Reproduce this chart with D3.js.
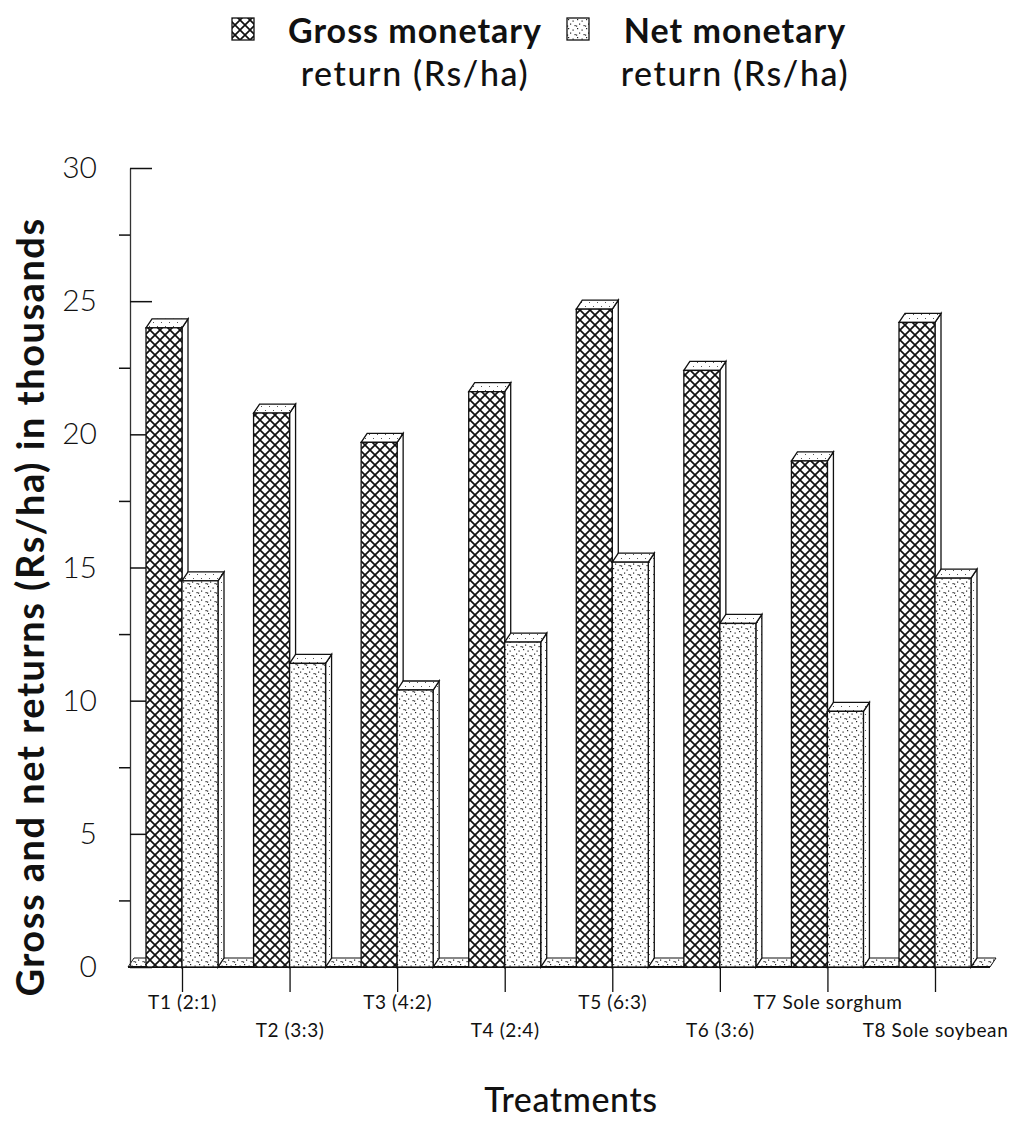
<!DOCTYPE html>
<html>
<head>
<meta charset="utf-8">
<script src="https://cdn.jsdelivr.net/npm/d3@7"></script>
<style>
  body { margin: 0; background: #fff; }
  svg { font-family: Lato, "Open Sans", sans-serif; }
</style>
</head>
<body>
<script>
// Treatments and their returns (thousand Rs/ha)
var treatments = ["T1 (2:1)", "T2 (3:3)", "T3 (4:2)", "T4 (2:4)", "T5 (6:3)", "T6 (3:6)", "T7 Sole sorghum", "T8 Sole soybean"];
var gross = [24.0, 20.8, 19.7, 21.6, 24.7, 22.4, 19.0, 24.2];
var net = [14.5, 11.4, 10.4, 12.2, 15.2, 12.9, 9.6, 14.6];
var majorTicks = [0, 5, 10, 15, 20, 25, 30];
var minorTicks = [2.5, 7.5, 12.5, 17.5, 22.5, 27.5];
var legendLabels = [["Gross monetary", "return (Rs/ha)"], ["Net monetary", "return (Rs/ha)"]];

var width = 1015, height = 1121;
var barW = 36, dx = 6, dy = 9;

var svg = d3.select("body").append("svg")
    .attr("width", width)
    .attr("height", height);

// patterns
var defs = svg.append("defs");
var hatch = defs.append("pattern")
    .attr("id", "hatch")
    .attr("patternUnits", "userSpaceOnUse")
    .attr("width", 10).attr("height", 10);
hatch.append("rect").attr("width", 10).attr("height", 10).attr("fill", "#fff");
hatch.append("path").attr("d", "M0,0L10,10M10,0L0,10M-1,9L1,11M9,-1L11,1")
    .attr("stroke", "#111").attr("stroke-width", 1.7);

var dots = defs.append("pattern")
    .attr("id", "dots")
    .attr("patternUnits", "userSpaceOnUse")
    .attr("width", 9).attr("height", 9);
dots.append("rect").attr("width", 9).attr("height", 9).attr("fill", "#fff");
[[1, 1], [5.5, 2.5], [3, 5.5], [7.5, 7], [0, 7.5]].forEach(function(p) {
  dots.append("rect").attr("x", p[0]).attr("y", p[1])
      .attr("width", 1.2).attr("height", 1.2).attr("fill", "#222");
});

var lightDots = defs.append("pattern")
    .attr("id", "lightdots")
    .attr("patternUnits", "userSpaceOnUse")
    .attr("width", 8).attr("height", 8);
lightDots.append("rect").attr("width", 8).attr("height", 8).attr("fill", "#fff");
[[1, 2], [5, 6]].forEach(function(p) {
  lightDots.append("rect").attr("x", p[0]).attr("y", p[1])
      .attr("width", 1).attr("height", 1).attr("fill", "#555");
});

// scales
var y = d3.scaleLinear().domain([0, 30]).range([967, 168]);
var x = d3.scalePoint().domain(treatments).range([182, 935]);
var x0 = 130;

// floor slab
var floorY = y(0);
svg.append("path")
    .attr("d", "M128," + floorY + "L" + (128 + dx) + "," + (floorY - dy) +
               "L" + (990 + dx) + "," + (floorY - dy) + "L990," + floorY + "Z")
    .attr("fill", "url(#dots)")
    .attr("stroke", "#111").attr("stroke-width", 1);
svg.append("line")
    .attr("x1", 128).attr("x2", 990)
    .attr("y1", floorY).attr("y2", floorY)
    .attr("stroke", "#111").attr("stroke-width", 2);

// y axis
var yAxis = svg.append("g")
    .attr("transform", "translate(" + x0 + ",0)")
    .call(d3.axisLeft(y).tickValues(majorTicks).tickSizeInner(-22).tickSizeOuter(0).tickPadding(33));
yAxis.select(".domain").attr("stroke", "#333").attr("stroke-width", 1.3);
yAxis.selectAll(".tick line").attr("stroke", "#111").attr("stroke-width", 1.5);
yAxis.selectAll(".tick text")
    .attr("font-size", 30).attr("font-weight", 300)
    .attr("font-family", "Lato, sans-serif").attr("fill", "#111");

var yMinor = svg.append("g")
    .attr("transform", "translate(" + x0 + ",0)")
    .call(d3.axisLeft(y).tickValues(minorTicks).tickSize(11).tickFormat(""));
yMinor.select(".domain").remove();
yMinor.selectAll(".tick line").attr("stroke", "#111").attr("stroke-width", 1.5);

// 3D bar helper
function bar(g, left, value, front, top, side) {
  var x1 = left + barW, yt = y(value), yb = y(0);
  g.append("path")
      .attr("d", "M" + x1 + "," + yt + "L" + (x1 + dx) + "," + (yt - dy) +
                 "L" + (x1 + dx) + "," + (yb - dy) + "L" + x1 + "," + yb + "Z")
      .attr("fill", side).attr("stroke", "#111").attr("stroke-width", 1.3);
  g.append("path")
      .attr("d", "M" + left + "," + yt + "L" + (left + dx) + "," + (yt - dy) +
                 "L" + (x1 + dx) + "," + (yt - dy) + "L" + x1 + "," + yt + "Z")
      .attr("fill", top).attr("stroke", "#111").attr("stroke-width", 1.3);
  g.append("rect")
      .attr("x", left).attr("y", yt)
      .attr("width", barW).attr("height", yb - yt)
      .attr("fill", front).attr("stroke", "#111").attr("stroke-width", 1.3);
}

var groups = svg.selectAll(".grp")
    .data(treatments)
    .enter().append("g")
    .attr("class", "grp");

groups.each(function(d, i) {
  var g = d3.select(this);
  bar(g, x(d) - barW, gross[i], "url(#hatch)", "url(#lightdots)", "#fff");
  bar(g, x(d), net[i], "url(#dots)", "url(#lightdots)", "url(#lightdots)");
});

// x axis ticks and labels
var xAxis = svg.append("g")
    .attr("transform", "translate(0," + floorY + ")")
    .call(d3.axisBottom(x).tickSize(25).tickPadding(9));
xAxis.select(".domain").remove();
xAxis.selectAll(".tick line").attr("stroke", "#111").attr("stroke-width", 1.3);
xAxis.selectAll(".tick text")
    .attr("font-size", 19).attr("fill", "#111")
    .attr("letter-spacing", 0.6)
    .attr("font-family", "Lato, sans-serif")
    .attr("y", function(d, i) { return i % 2 === 0 ? 29 : 57; });

// axis titles
svg.append("text")
    .attr("text-anchor", "middle")
    .attr("x", 571).attr("y", 1112)
    .attr("font-size", 34).attr("font-weight", 500)
    .attr("letter-spacing", 0.6)
    .attr("fill", "#111")
    .text("Treatments");

svg.append("text")
    .attr("text-anchor", "middle")
    .attr("transform", "rotate(-90)")
    .attr("x", -607).attr("y", 44)
    .attr("font-size", 38).attr("font-weight", 700)
    .attr("letter-spacing", 1.5)
    .attr("fill", "#111")
    .text("Gross and net returns (Rs/ha) in thousands");

// legend
var legend = [
  {sx: 232, tx: 415, fill: "url(#hatch)"},
  {sx: 567, tx: 735, fill: "url(#dots)"}
];
legend.forEach(function(l, i) {
  svg.append("rect")
      .attr("x", l.sx).attr("y", 18)
      .attr("width", 22).attr("height", 22)
      .attr("fill", l.fill).attr("stroke", "#111").attr("stroke-width", 1.3);
  svg.append("text")
      .attr("text-anchor", "middle")
      .attr("x", l.tx).attr("y", 43)
      .attr("font-size", 34).attr("font-weight", 700).attr("fill", "#111")
      .attr("letter-spacing", 1)
      .text(legendLabels[i][0]);
  svg.append("text")
      .attr("text-anchor", "middle")
      .attr("x", l.tx).attr("y", 86)
      .attr("font-size", 34).attr("font-weight", 500).attr("fill", "#111")
      .attr("letter-spacing", 1.6)
      .text(legendLabels[i][1]);
});
</script>
</body>
</html>
